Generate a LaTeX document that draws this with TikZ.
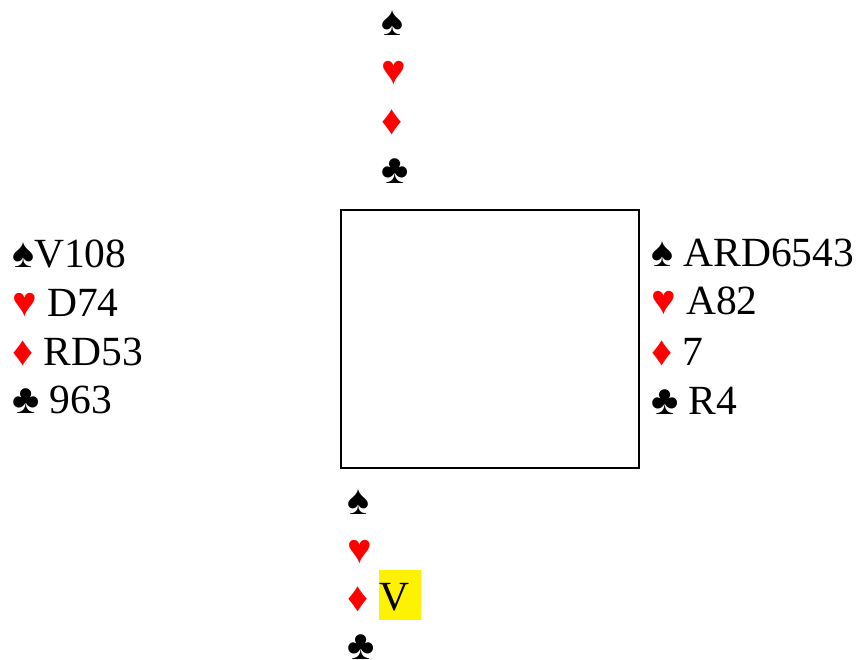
\documentclass[tikz,border=0pt]{standalone}
\usepackage{fontspec}
\setmainfont{Liberation Serif}
\newcommand{\Sp}{\char"2660}
\newcommand{\He}{\textcolor{red}{\char"2665}}
\newcommand{\Di}{\textcolor{red}{\char"2666}}
\newcommand{\Cl}{\char"2663}

\begin{document}
\begin{tikzpicture}[x=1pt,y=-1pt,
    hand/.style={anchor=base west,inner sep=0pt,font=\fontsize{41.5}{50}\selectfont}]
      \useasboundingbox (0,0) rectangle (858,659);
      \node[draw,line width=2pt,inner sep=0pt,anchor=north west,
        minimum width=298pt,minimum height=258pt] (table) at (340,209) {};

      % north
      \node[hand] (nS) at (381,35) {\Sp};
      \node[hand] (nH) at (381,84) {\He};
      \node[hand] (nD) at (381,134) {\Di};
      \node[hand] (nC) at (381,183) {\Cl};

      % west
      \node[hand] (wS) at (12,267) {\Sp V108};
      \node[hand] (wH) at (12,316) {\He{} D74};
      \node[hand] (wD) at (12,365) {\Di{} RD53};
      \node[hand] (wC) at (12,413) {\Cl{} 963};

      % east
      \node[hand] (eS) at (651,266) {\Sp{} ARD6543};
      \node[hand] (eH) at (651,314) {\He{} A82};
      \node[hand] (eD) at (651,365) {\Di{} 7};
      \node[hand] (eC) at (651,414) {\Cl{} R4};

      % south
      \node[hand] (sS) at (347,514) {\Sp};
      \node[hand] (sH) at (347,563) {\He};
      \node[hand] (sD) at (347,611) {\Di};
      \node[hand,fill=yellow,text width=42pt,text height=40pt,text depth=10pt] (sV) at (379,610) {V};
      \node[hand] (sC) at (347,659) {\Cl};
\end{tikzpicture}
\end{document}
